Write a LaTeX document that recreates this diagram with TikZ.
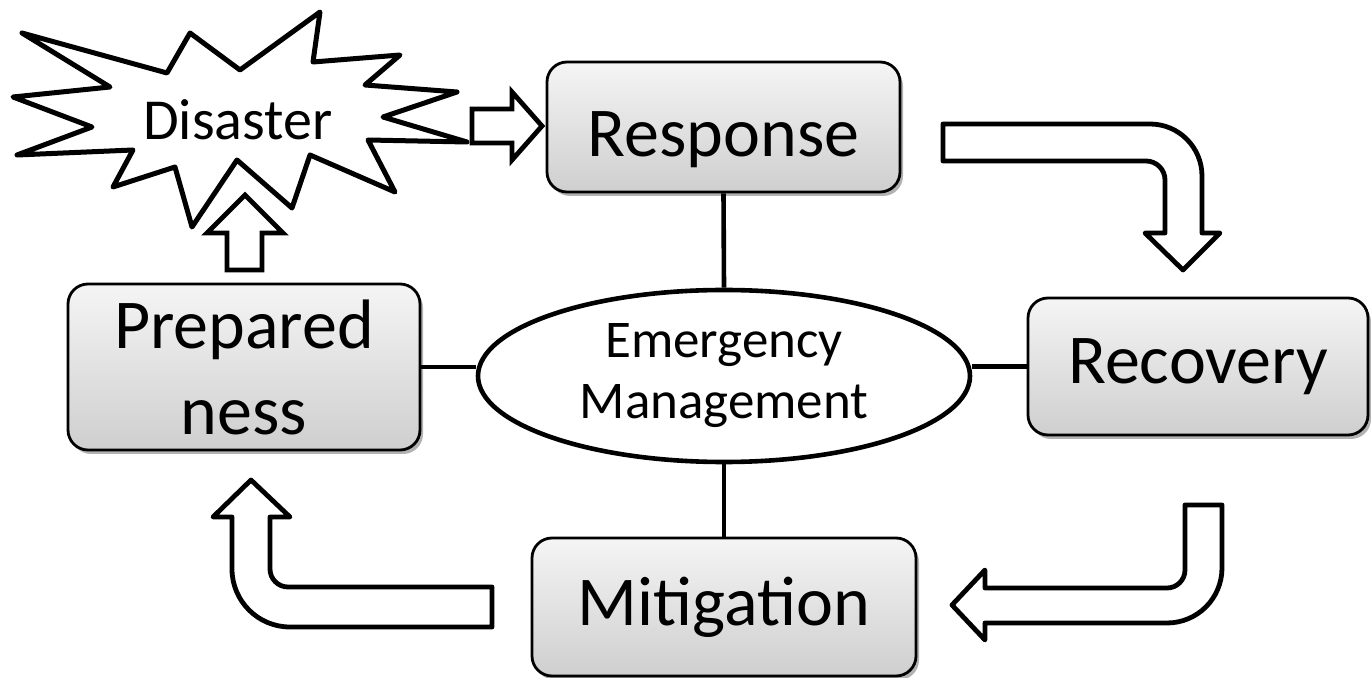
\documentclass[tikz,border=0pt]{standalone}
\usepackage{fontspec}
\setmainfont{Carlito}
\usetikzlibrary{shapes.geometric,shadows}
\tikzset{
  stagebox/.style={draw=black, line width=1.4pt, rounded corners=10pt,
    top color=black!4, bottom color=black!19,
    drop shadow={shadow xshift=1.5pt, shadow yshift=-2pt, opacity=0.3, fill=black},
    align=center, inner sep=0pt, font=\fontsize{35}{43}\selectfont},
  link/.style={draw=black, line width=2.3pt},
  blockarrow/.style={draw=black, fill=white, line width=2.4pt, line join=round},
  straightarrow/.style={draw=black, fill=white, line width=2.4pt, line join=miter},
}
\begin{document}
\begin{tikzpicture}[x=0.5pt, y=-0.5pt]
\useasboundingbox (0,0) rectangle (1371,678);

% stage boxes
\node[stagebox, minimum width=176.5pt, minimum height=65pt, text height=30pt, text depth=0pt] (resp) at (723.5,127) {Response};
\node[stagebox, minimum width=170pt, minimum height=68.5pt] (reco) at (1198,366.5) {Recovery};
\node[stagebox, minimum width=176pt, minimum height=83pt] (prep) at (244,367) {Prepared\\ness};
\node[stagebox, minimum width=192pt, minimum height=69pt] (miti) at (724,607) {Mitigation};

% central ellipse
\node[ellipse, draw=black, line width=2.3pt, fill=white, minimum width=246pt, minimum height=86pt,
      inner sep=0pt, align=center, font=\fontsize{26.5}{30.5}\selectfont] (em) at (724,376)
      {Emergency\\Management};

% connectors
\draw[link] (resp.south) -- (em.north);
\draw[link] (em.south) -- (miti.north);
\draw[link] (prep.east) -- (prep.east -| em.west);
\draw[link] (reco.west) -- (reco.west -| em.east);

% disaster starburst
\draw[line width=2.5pt, line join=round, fill=white]
  (22,33) -- (167,73) -- (190,33) -- (240,70) -- (320,12) -- (313,62) -- (400,55)
  -- (365,85) -- (457,92) -- (383,117) -- (467,142) -- (368,140) -- (395,192)
  -- (310,155) -- (292,208) -- (237,160) -- (192,227) -- (175,167) -- (113,187)
  -- (133,150) -- (17,155) -- (92,127) -- (13,97) -- (110,87) -- cycle;
\node[font=\fontsize{29}{34}\selectfont] (dis) at (238,120) {Disaster};

% disaster -> response
\draw[straightarrow] (472,109) -- (512,109) -- (512,92) -- (542,126) -- (512,160)
  -- (512,143) -- (472,143) -- cycle;

% preparedness -> disaster
\draw[straightarrow] (227,270) -- (227,233) -- (207,233) -- (245,195) -- (283,233)
  -- (262,233) -- (262,270) -- cycle;

% response -> recovery
\draw[blockarrow] (943,124) -- (1150,124) arc[start angle=90, end angle=0, radius=26pt]
  -- (1202,233) -- (1220,233) -- (1183,270) -- (1145,233) -- (1165,233)
  -- (1165,180) arc[start angle=0, end angle=90, radius=9.5pt]
  -- (943,161) -- cycle;

% recovery -> mitigation
\draw[blockarrow] (1185,505) -- (1222,505) -- (1222,568)
  arc[start angle=0, end angle=-90, radius=27.5pt]
  -- (985,623) -- (985,640) -- (952,605) -- (985,570) -- (985,588) -- (1167,588)
  arc[start angle=-90, end angle=0, radius=9pt] -- cycle;

% mitigation -> preparedness
\draw[blockarrow] (492,587) -- (288,587) arc[start angle=-90, end angle=-180, radius=9pt]
  -- (270,517) -- (290,517) -- (251,480) -- (213,517) -- (232,517) -- (232,569)
  arc[start angle=180, end angle=270, radius=29pt] -- (492,627) -- cycle;
\end{tikzpicture}
\end{document}
